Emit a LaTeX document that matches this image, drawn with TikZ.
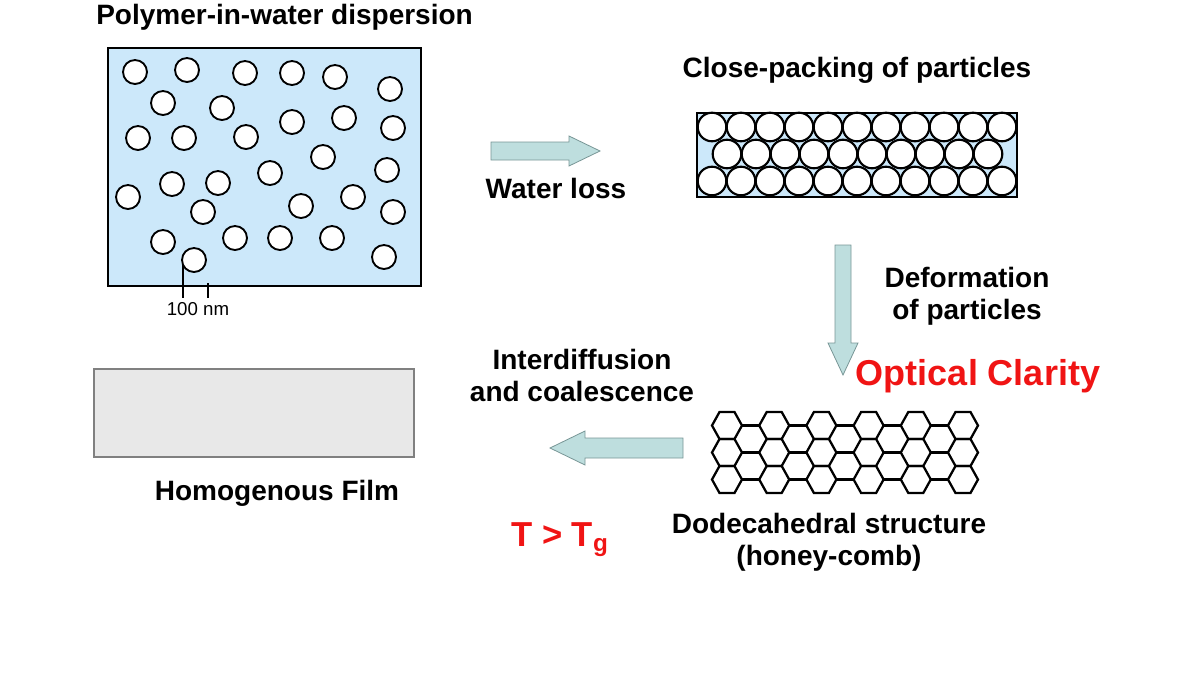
\documentclass[tikz,border=0pt]{standalone}
\usepackage{fontspec}
\setmainfont{Liberation Sans}
\definecolor{water}{RGB}{204,232,250}
\definecolor{arrowfill}{RGB}{190,222,222}
\definecolor{arrowline}{RGB}{120,150,150}
\definecolor{film}{RGB}{232,232,232}
\begin{document}
\begin{tikzpicture}[x=0.75pt,y=-0.75pt,
 lbl/.style={font=\bfseries\fontsize{21}{24}\selectfont,align=center},
 red/.style={lbl,text={rgb,255:red,240;green,20;blue,20}},
 part/.style={draw=black,line width=1.6pt,fill=white},
 blk/.style={draw=arrowline,fill=arrowfill,line width=0.6pt,line join=miter}]
\useasboundingbox (0,0) rectangle (1200,675);
% dispersion
\node[lbl,anchor=west,inner sep=0pt] (t1) at (96,17) {Polymer-in-water dispersion};
\draw[line width=1.8pt,fill=water] (108,48) rectangle (421,286);
\foreach \x/\y in {135/72,187/70,245/73,292/73,335/77,390/89,163/103,222/108,292/122,344/118,393/128,138/138,184/138,246/137,323/157,387/170,270/173,172/184,218/183,128/197,353/197,301/206,393/212,203/212,163/242,235/238,280/238,332/238,384/257,194/260}
  \draw[part,line width=1.4pt] (\x,\y) circle (12);
\draw[line width=1pt] (183,265) -- (183,298) (208,283) -- (208,298);
\node[font=\fontsize{14}{16}\selectfont] (nm) at (198,309) {100 nm};
% arrow 1
\coordinate (a1) at (491,151);
\draw[blk] (a1) ++(0,-9) -- ++(78,0) -- ++(0,-6) -- ++(31,15) -- ++(-31,15) -- ++(0,-6) -- ++(-78,0) -- cycle;
\node[lbl] (wl) at (556,188) {Water loss};
% close packing
\node[lbl] (t2) at (857,70) {Close-packing of particles};
\draw[line width=1.8pt,fill=water] (697,113) rectangle (1017,197);
\foreach \i in {0,...,10} {\draw[part] (712+29*\i,127) circle (14.3); \draw[part] (712+29*\i,181) circle (14.3);}
\foreach \i in {0,...,9} \draw[part] (727+29*\i,154) circle (14.3);
% arrow 2
\coordinate (a2) at (843,245);
\draw[blk] (a2) ++(-8,0) -- ++(0,98) -- ++(-7,0) -- ++(15,32) -- ++(15,-32) -- ++(-7,0) -- ++(0,-98) -- cycle;
\node[lbl] (df) at (967,296) {Deformation\\of particles};
\node[red,font=\bfseries\fontsize{27}{30}\selectfont] (oc) at (978,376) {Optical Clarity};
% honeycomb
\foreach \c in {0,...,5} \foreach \r in {0,1,2}
  \draw[line width=1.7pt,line join=miter] ({727+47.2*\c-15},{425.5+27*\r}) -- ++(7.5,-13.5) -- ++(15,0) -- ++(7.5,13.5) -- ++(-7.5,13.5) -- ++(-15,0) -- cycle;
\foreach \c in {0,...,4} \foreach \r in {0,1,2}
  \draw[line width=1.7pt] ({742+47.2*\c},{425.5+27*\r}) -- ++(17.2,0);
\node[lbl] (dd) at (829,542) {Dodecahedral structure\\(honey-comb)};
% arrow 3
\coordinate (a3) at (683,448);
\draw[blk] (a3) ++(0,-10) -- ++(-98,0) -- ++(0,-7) -- ++(-35,17) -- ++(35,17) -- ++(0,-7) -- ++(98,0) -- cycle;
\node[lbl] (id) at (582,375) {Interdiffusion\\and coalescence};
\node[red,font=\bfseries\fontsize{26}{29}\selectfont] (tg) at (560,540) {T > T\textsubscript{g}};
% film
\draw[line width=0.8pt,draw=gray,fill=film] (94,369) rectangle (414,457);
\node[lbl] (hf) at (277,493) {Homogenous Film};
\end{tikzpicture}
\end{document}
